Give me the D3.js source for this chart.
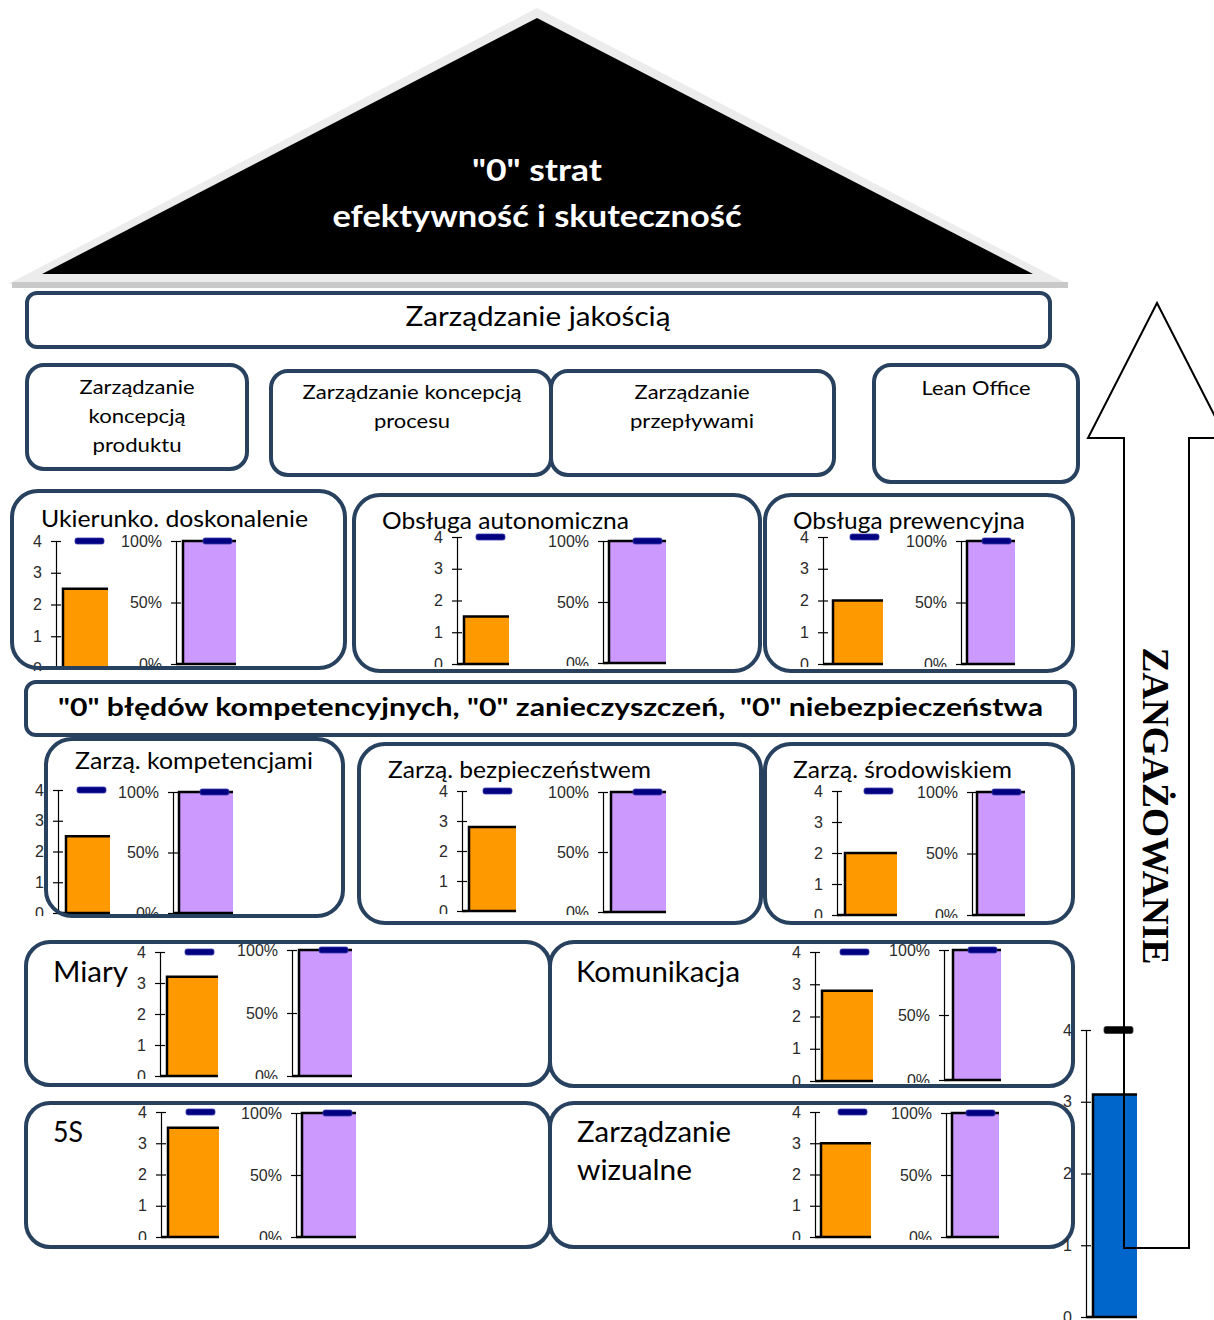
<!DOCTYPE html>
<html>
<head>
<meta charset="utf-8">
<script src="https://cdn.jsdelivr.net/npm/d3@7"></script>
<style>
  body { margin: 0; background: #fff; }
  text { white-space: pre; }
</style>
</head>
<body>
<svg id="house" width="1214" height="1320"></svg>
<script>
// ---------- data ----------
const roofLines = ['"0" strat', 'efektywność i skuteczność'];
const qualityLabel = 'Zarządzanie jakością';
const pillarTitles = [
  ['Zarządzanie', 'koncepcją', 'produktu'],
  ['Zarządzanie koncepcją', 'procesu'],
  ['Zarządzanie', 'przepływami'],
  ['Lean Office']
];
const bandLabel = '"0" błędów kompetencyjnych, "0" zanieczyszczeń,  "0" niebezpieczeństwa';
const panelTitles = [
  ['Ukierunko. doskonalenie'], ['Obsługa autonomiczna'], ['Obsługa prewencyjna'],
  ['Zarzą. kompetencjami'], ['Zarzą. bezpieczeństwem'], ['Zarzą. środowiskiem'],
  ['Miary'], ['Komunikacja'], ['5S'], ['Zarządzanie', 'wizualne']
];
const scoreValues    = [2.5, 1.5, 2.0, 2.5, 2.8, 2.0, 3.2, 2.8, 3.5, 3.0];
const scoreTargets   = [4, 4, 4, 4, 4, 4, 4, 4, 4, 4];
const percentValues  = [100, 100, 100, 100, 100, 100, 100, 100, 100, 100];
const percentTargets = [100, 100, 100, 100, 100, 100, 100, 100, 100, 100];
const scoreTicks   = [0, 1, 2, 3, 4];
const percentTicks = [0, 50, 100];
const engagementLabel  = 'ZANGAŻOWANIE';
const engagementValue  = 3.1;
const engagementTarget = 4;

// ---------- styling ----------
const BOX = '#27415f';
const ORANGE = '#ff9900', PURPLE = '#cc99ff', BLUE = '#0066cc', NAVY = '#000080';
const SANS = 'Lato, "Open Sans", sans-serif';
const TICKFONT = '"Liberation Sans", Arial, sans-serif';

const svg = d3.select('#house');

// ---------- layout of the panels ----------
const panelLayout = [
  { box: [10, 489, 347, 670],  rx: 26, title: { x: 41,  y: [527], w: [267], size: 23 },
    L: { ax: 56,  top: 541, bot: 668, x0: 63,  x1: 108 }, R: { ax: 176, top: 541, bot: 664, x0: 183, x1: 236 } },
  { box: [352, 493, 762, 673], rx: 26, title: { x: 382, y: [529], w: [247], size: 23 },
    L: { ax: 457, top: 537, bot: 664, x0: 464, x1: 509 }, R: { ax: 603, top: 541, bot: 663, x0: 609, x1: 666 } },
  { box: [763, 493, 1075, 673], rx: 26, title: { x: 793, y: [529], w: [232], size: 23 },
    L: { ax: 823, top: 537, bot: 664, x0: 833, x1: 883 }, R: { ax: 961, top: 541, bot: 664, x0: 967, x1: 1015 } },
  { box: [44, 737, 345, 918],  rx: 26, title: { x: 75,  y: [769], w: [238], size: 23 },
    L: { ax: 58,  top: 790, bot: 913, x0: 66,  x1: 110 }, R: { ax: 173, top: 792, bot: 913, x0: 179, x1: 233 } },
  { box: [357, 742, 763, 925], rx: 26, title: { x: 388, y: [778], w: [263], size: 23 },
    L: { ax: 462, top: 791, bot: 911, x0: 469, x1: 516 }, R: { ax: 603, top: 792, bot: 912, x0: 611, x1: 666 } },
  { box: [763, 742, 1075, 925], rx: 26, title: { x: 793, y: [778], w: [219], size: 23 },
    L: { ax: 837, top: 791, bot: 915, x0: 845, x1: 897 }, R: { ax: 972, top: 792, bot: 915, x0: 977, x1: 1025 } },
  { box: [24, 940, 552, 1087], rx: 24, title: { x: 53,  y: [982], w: [75], size: 28 },
    L: { ax: 160, top: 952, bot: 1076, x0: 167, x1: 218 }, R: { ax: 292, top: 950, bot: 1076, x0: 299, x1: 352 } },
  { box: [548, 940, 1075, 1088], rx: 24, title: { x: 576, y: [982], w: [164], size: 28 },
    L: { ax: 815, top: 952, bot: 1081, x0: 822, x1: 873 }, R: { ax: 944, top: 950, bot: 1080, x0: 953, x1: 1001 } },
  { box: [24, 1101, 552, 1249], rx: 24, title: { x: 53,  y: [1142], w: [30], size: 28 },
    L: { ax: 161, top: 1112, bot: 1237, x0: 168, x1: 219 }, R: { ax: 296, top: 1113, bot: 1237, x0: 302, x1: 356 } },
  { box: [548, 1101, 1075, 1249], rx: 24, title: { x: 577, y: [1142, 1180], w: [154, 115], size: 28 },
    L: { ax: 815, top: 1112, bot: 1237, x0: 821, x1: 871 }, R: { ax: 946, top: 1113, bot: 1237, x0: 952, x1: 999 } }
];

// ---------- helpers ----------
function txt(parent, s, x, y, o) {
  const t = parent.append('text').text(s)
    .attr('x', x).attr('y', y)
    .attr('font-family', o.family || SANS)
    .attr('font-size', o.size)
    .attr('font-weight', o.weight || 'normal')
    .attr('fill', o.fill || '#000')
    .attr('text-anchor', o.anchor || 'start');
  if (o.w) t.attr('textLength', o.w).attr('lengthAdjust', 'spacingAndGlyphs');
  return t;
}

function box(parent, b, rx) {
  parent.append('rect')
    .attr('x', b[0] + 2).attr('y', b[1] + 2)
    .attr('width', b[2] - b[0] - 4).attr('height', b[3] - b[1] - 4)
    .attr('rx', rx).attr('ry', rx)
    .attr('fill', 'none').attr('stroke', BOX).attr('stroke-width', 4);
}

let clipId = 0;
// One small bar chart: axis with crossing ticks, a single bar and a target marker.
function miniChart(parent, cfg, name, value, target, domain, ticks, fmt, fill, markColor, markH) {
  const id = 'clip' + (clipId++);
  parent.append('clipPath').attr('id', id).append('rect')
    .attr('x', cfg.ax - 70).attr('y', cfg.top - 20)
    .attr('width', cfg.x1 - cfg.ax + 70).attr('height', cfg.bot - cfg.top + 23);
  const g = parent.append('g').attr('clip-path', `url(#${id})`);

  const y = d3.scaleLinear().domain(domain).range([cfg.bot, cfg.top]);
  const x = d3.scaleBand().domain([name]).range([cfg.x0, cfg.x1]).padding(0);

  const ag = g.append('g').attr('transform', `translate(${cfg.ax},0)`)
    .call(d3.axisLeft(y).tickValues(ticks).tickFormat(fmt).tickSize(5).tickSizeOuter(0).tickPadding(9));
  ag.select('.domain').attr('stroke', '#000').attr('stroke-width', 1.2);
  ag.selectAll('.tick line').attr('x1', 5).attr('stroke', '#000').attr('stroke-width', 1.2);
  ag.selectAll('.tick text')
    .attr('font-family', TICKFONT).attr('font-size', 16).attr('fill', '#2a2a2a');

  const bx = x(name), bw = x.bandwidth(), yv = y(value);
  g.append('rect').attr('x', bx).attr('y', yv).attr('width', bw).attr('height', y(domain[0]) - yv)
    .attr('fill', fill);
  g.append('path').attr('d', `M${bx},${y(domain[0])}V${yv}H${bx + bw}`)
    .attr('fill', 'none').attr('stroke', '#000').attr('stroke-width', 2.5);
  g.append('path').attr('d', `M${cfg.ax},${y(domain[0])}H${bx + bw}`)
    .attr('stroke', '#000').attr('stroke-width', 2.5);

  g.append('rect')
    .attr('x', bx + bw - 33).attr('y', y(target) - markH / 2)
    .attr('width', 29).attr('height', markH).attr('rx', 2)
    .attr('fill', markColor).attr('stroke', markColor === NAVY ? '#3b3bb0' : '#333').attr('stroke-width', 0.8);
}

// ---------- roof ----------
svg.append('path').attr('d', 'M537,8 L8,284 L1068,284 Z').attr('fill', '#ececec');
svg.append('rect').attr('x', 12).attr('y', 282).attr('width', 1056).attr('height', 6).attr('fill', '#c9c9c9');
svg.append('path').attr('d', 'M537,18 L42,274 L1033,274 Z').attr('fill', '#000');
txt(svg, roofLines[0], 537, 181, { size: 31, weight: 'bold', fill: '#fff', anchor: 'middle', w: 130 });
txt(svg, roofLines[1], 537, 227, { size: 31, weight: 'bold', fill: '#fff', anchor: 'middle', w: 409 });

// ---------- quality beam ----------
box(svg, [25, 291, 1052, 349], 10);
txt(svg, qualityLabel, 538, 326, { size: 26, anchor: 'middle', w: 265 });

// ---------- upper pillars ----------
const pillarLayout = [
  { box: [25, 363, 249, 471], cx: 137, y: [394, 423, 452], w: [115, 97, 89] },
  { box: [269, 369, 553, 477], cx: 412, y: [399, 428], w: [219, 76] },
  { box: [549, 369, 836, 477], cx: 692, y: [399, 428], w: [115, 124] },
  { box: [872, 363, 1080, 484], cx: 976, y: [395], w: [109] }
];
pillarTitles.forEach((lines, i) => {
  const p = pillarLayout[i];
  box(svg, p.box, 17);
  lines.forEach((s, j) => txt(svg, s, p.cx, p.y[j], { size: 20, anchor: 'middle', w: p.w[j] }));
});

// ---------- panels with charts ----------
const chartLayer = svg.append('g');
const frameLayer = svg.append('g');
panelTitles.forEach((lines, i) => {
  const p = panelLayout[i];
  miniChart(chartLayer, p.L, panelTitles[i].join(' '), scoreValues[i], scoreTargets[i],
    [0, 4], scoreTicks, d3.format('d'), ORANGE, NAVY, 6);
  miniChart(chartLayer, p.R, panelTitles[i].join(' '), percentValues[i], percentTargets[i],
    [0, 100], percentTicks, d => d + '%', PURPLE, NAVY, 6);
  lines.forEach((s, j) => txt(chartLayer, s, p.title.x, p.title.y[j], { size: p.title.size, w: p.title.w[j] }));
  box(frameLayer, p.box, p.rx);
});

// ---------- middle band ----------
box(frameLayer, [24, 680, 1077, 737], 10);
txt(frameLayer, bandLabel, 58, 716, { size: 25, weight: 'bold', w: 985 });

// ---------- engagement bar and arrow ----------
const engLayer = svg.append('g');
miniChart(engLayer, { ax: 1086, top: 1030, bot: 1317, x0: 1093, x1: 1137 }, engagementLabel,
  engagementValue, engagementTarget, [0, 4], scoreTicks, d3.format('d'), BLUE, '#000', 7);

svg.append('path')
  .attr('d', 'M1124,1248 V438 H1088 L1157,303 L1226,438 H1189 V1248 Z')
  .attr('fill', 'none').attr('stroke', '#000').attr('stroke-width', 2);

svg.append('text').text(engagementLabel)
  .attr('transform', 'translate(1143,806) rotate(90)')
  .attr('text-anchor', 'middle')
  .attr('font-family', '"Liberation Serif", "Times New Roman", serif')
  .attr('font-weight', 'bold').attr('font-size', 38)
  .attr('textLength', 317).attr('lengthAdjust', 'spacingAndGlyphs');
</script>
</body>
</html>
